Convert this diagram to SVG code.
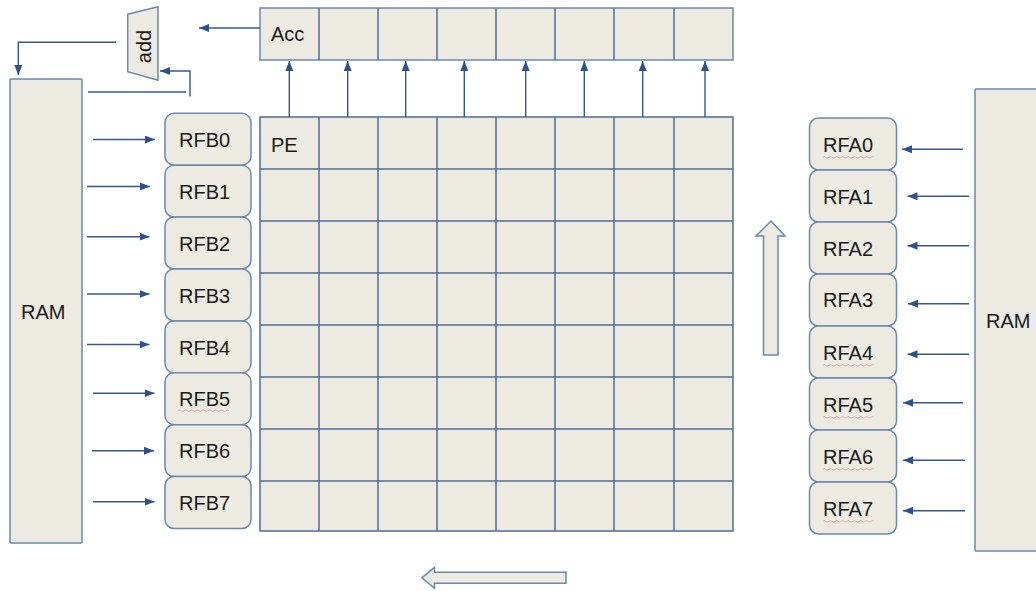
<svg xmlns="http://www.w3.org/2000/svg" width="1036" height="591" viewBox="0 0 1036 591">
<style>
.box{fill:#eceae1;stroke:#6a88b0;stroke-width:1.5}
.grid{stroke:#4d6d98;stroke-width:1.5;fill:none}
.t{font-family:"Liberation Sans",Arial,sans-serif;font-size:20px;fill:#1a1a1a}
.c{stroke:#34588f;stroke-width:1.4;fill:none}
.a{marker-end:url(#ah)}
.sq{stroke:#e8a0a0;stroke-width:0.8;fill:none}
</style>
<defs>
<marker id="ah" markerUnits="userSpaceOnUse" markerWidth="11" markerHeight="9" refX="10" refY="4" orient="auto">
<path d="M0,0 L10,4 L0,8 z" fill="#2c5190"/>
</marker>
</defs>
<rect width="1036" height="591" fill="#ffffff"/>

<g id="ram-left">
<rect class="box" x="10" y="79" width="72" height="464" rx="1"/>
<text class="t" x="21" y="319">RAM</text>
</g>
<g id="ram-right">
<rect class="box" x="975" y="89" width="70" height="462" rx="1"/>
<text class="t" x="986" y="328">RAM</text>
</g>

<g id="add">
<polygon class="box" points="127.7,14.3 158,6.7 158,80.3 127.7,71.7"/>
<text class="t" x="0" y="0" transform="translate(150.5,46.5) rotate(-90)" text-anchor="middle">add</text>
</g>

<g id="acc">
<rect class="box" x="260" y="8" width="473" height="52"/>
<path class="grid" d="M319,8V60M378,8V60M437,8V60M496,8V60M555,8V60M614,8V60M674,8V60"/>
<text class="t" x="271" y="41">Acc</text>
</g>

<g id="pe-array">
<rect x="260" y="117" width="473" height="414" fill="#eceae1"/>
<path class="grid" d="M260,117H733V531H260Z M319,117V531M378,117V531M437,117V531M496,117V531M555,117V531M614,117V531M674,117V531 M260,169H733M260,221H733M260,273H733M260,325H733M260,377H733M260,429H733M260,481H733"/>
<text class="t" x="271" y="152">PE</text>
</g>

<g id="rfb">
<rect class="box" x="165" y="113.3" width="86" height="51.9" rx="9"/>
<rect class="box" x="165" y="165.2" width="86" height="51.9" rx="9"/>
<rect class="box" x="165" y="217.1" width="86" height="51.9" rx="9"/>
<rect class="box" x="165" y="269" width="86" height="51.9" rx="9"/>
<rect class="box" x="165" y="320.9" width="86" height="51.9" rx="9"/>
<rect class="box" x="165" y="372.8" width="86" height="51.9" rx="9"/>
<rect class="box" x="165" y="424.7" width="86" height="51.9" rx="9"/>
<rect class="box" x="165" y="476.6" width="86" height="51.9" rx="9"/>
<text class="t" x="179" y="147">RFB0</text>
<text class="t" x="179" y="199">RFB1</text>
<text class="t" x="179" y="250.5">RFB2</text>
<text class="t" x="179" y="302.5">RFB3</text>
<text class="t" x="179" y="354.5">RFB4</text>
<text class="t" x="179" y="406">RFB5</text>
<text class="t" x="179" y="458">RFB6</text>
<text class="t" x="179" y="510">RFB7</text>
<path class="sq" d="M178,410.7 q1.5,-1.5 3,0 t3,0 t3,0 t3,0 t3,0 t3,0 t3,0 t3,0 t3,0 t3,0 t3,0 t3,0 t3,0 t3,0 t3,0 t3,0 t3,0"/>
</g>

<g id="rfa">
<rect class="box" x="809.5" y="118" width="87" height="52" rx="9"/>
<rect class="box" x="809.5" y="170" width="87" height="52" rx="9"/>
<rect class="box" x="809.5" y="222" width="87" height="52" rx="9"/>
<rect class="box" x="809.5" y="274" width="87" height="52" rx="9"/>
<rect class="box" x="809.5" y="326" width="87" height="52" rx="9"/>
<rect class="box" x="809.5" y="378" width="87" height="52" rx="9"/>
<rect class="box" x="809.5" y="430" width="87" height="52" rx="9"/>
<rect class="box" x="809.5" y="482" width="87" height="52" rx="9"/>
<text class="t" x="823" y="151.5">RFA0</text>
<text class="t" x="823" y="203.5">RFA1</text>
<text class="t" x="823" y="255.5">RFA2</text>
<text class="t" x="823" y="307">RFA3</text>
<text class="t" x="823" y="359.5">RFA4</text>
<text class="t" x="823" y="411.5">RFA5</text>
<text class="t" x="823" y="463.5">RFA6</text>
<text class="t" x="823" y="515.5">RFA7</text>
<path class="sq" d="M823,157.3 q1.5,-1.5 3,0 t3,0 t3,0 t3,0 t3,0 t3,0 t3,0 t3,0 t3,0 t3,0 t3,0 t3,0 t3,0 t3,0 t3,0 t3,0 t3,0"/>
<path class="sq" d="M823,365.3 q1.5,-1.5 3,0 t3,0 t3,0 t3,0 t3,0 t3,0 t3,0 t3,0 t3,0 t3,0 t3,0 t3,0 t3,0 t3,0 t3,0 t3,0 t3,0"/>
<path class="sq" d="M823,417.3 q1.5,-1.5 3,0 t3,0 t3,0 t3,0 t3,0 t3,0 t3,0 t3,0 t3,0 t3,0 t3,0 t3,0 t3,0 t3,0 t3,0 t3,0 t3,0"/>
<path class="sq" d="M823,469.3 q1.5,-1.5 3,0 t3,0 t3,0 t3,0 t3,0 t3,0 t3,0 t3,0 t3,0 t3,0 t3,0 t3,0 t3,0 t3,0 t3,0 t3,0 t3,0"/>
<path class="sq" d="M823,521.3 q1.5,-1.5 3,0 t3,0 t3,0 t3,0 t3,0 t3,0 t3,0 t3,0 t3,0 t3,0 t3,0 t3,0 t3,0 t3,0 t3,0 t3,0 t3,0"/>
</g>

<g id="big-arrows">
<polygon class="box" points="771,221 785,236 778,236 778,355 763.5,355 763.5,236 756,236"/>
<polygon class="box" points="422,577.7 434.5,567.3 434.5,572.3 566,572.3 566,583.3 434.5,583.3 434.5,588.3"/>
</g>

<g id="connectors">
<path class="c a" d="M260,28H199"/>
<path class="c a" d="M116,42.3H18.3V75"/>
<path class="c" d="M88,92H186"/>
<path class="c a" d="M190,96.5V71H160"/>
<path class="c a" d="M289.3,117V61"/>
<path class="c a" d="M347.7,117V61"/>
<path class="c a" d="M405.7,117V61"/>
<path class="c a" d="M464.3,117V61"/>
<path class="c a" d="M525.7,117V61"/>
<path class="c a" d="M584.3,117V61"/>
<path class="c a" d="M642.7,117V61"/>
<path class="c a" d="M705,117V61"/>
<path class="c a" d="M93,139.5H155"/>
<path class="c a" d="M87,186.5H150"/>
<path class="c a" d="M87,236.7H149.5"/>
<path class="c a" d="M87,294H149.5"/>
<path class="c a" d="M87,344.5H149.5"/>
<path class="c a" d="M93,393.3H154.5"/>
<path class="c a" d="M92,450.7H154"/>
<path class="c a" d="M93,501.7H154.5"/>
<path class="c a" d="M963,149.3H902"/>
<path class="c a" d="M969,196.3H907.5"/>
<path class="c a" d="M969,245.7H907.5"/>
<path class="c a" d="M969,303.7H908"/>
<path class="c a" d="M969,354.3H907.5"/>
<path class="c a" d="M963,402.7H903"/>
<path class="c a" d="M965,460.3H903"/>
<path class="c a" d="M965,510.7H903"/>
</g>
</svg>
